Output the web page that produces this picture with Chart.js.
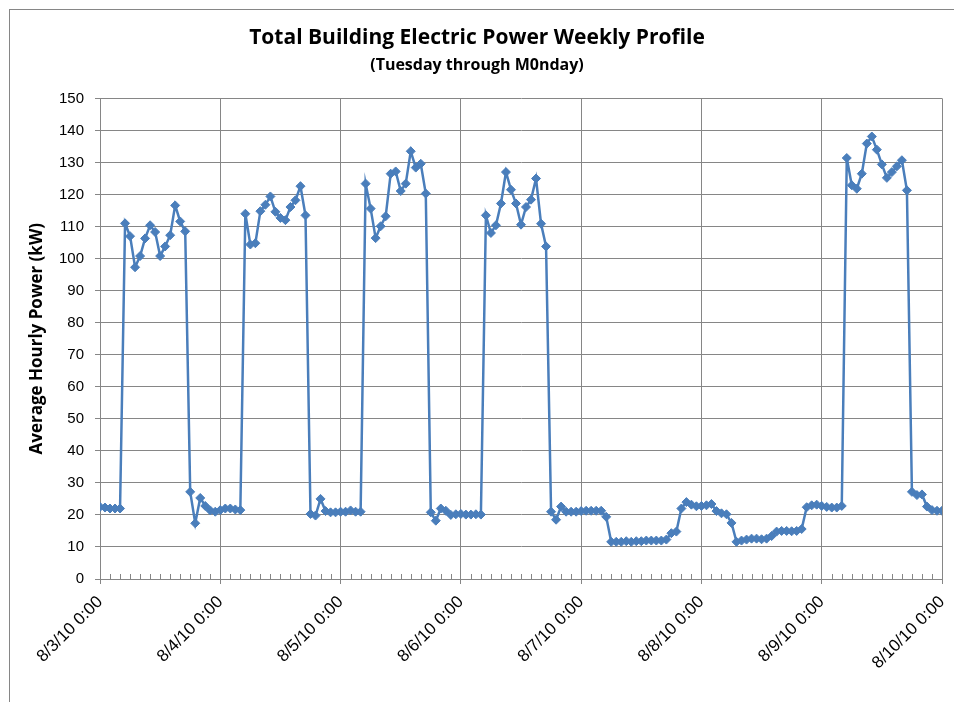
<!DOCTYPE html>
<html>
<head>
<meta charset="utf-8">
<script src="https://cdn.jsdelivr.net/npm/chart.js@4"></script>
<style>
  html, body { margin: 0; padding: 0; background: #fff; }
  #wrap { position: relative; width: 954px; height: 702px; }
  #frame { position: absolute; left: 9px; top: 9px; right: -5px; bottom: -5px; border-left: 1px solid #868686; border-top: 1px solid #868686; }
  canvas { position: absolute; left: 0; top: 0; }
</style>
</head>
<body>
<div id="wrap">
  <div id="frame"></div>
  <canvas id="myChart" width="954" height="702"></canvas>
</div>
<script>
// hourly average kW, one array per day (Tue 8/3 .. Mon 8/9), last one carries 8/10 0:00
const tue = [22.5, 22.3, 22.0, 22.0, 22.0, 111.0, 107.0, 97.3, 100.8, 106.3, 110.4, 108.3, 100.8, 103.8, 107.3, 116.6, 111.6, 108.5, 27.2, 17.4, 25.3, 22.8, 21.4, 21.0];
const wed = [21.5, 22.0, 22.0, 21.7, 21.5, 114.0, 104.4, 104.8, 114.8, 116.8, 119.4, 114.6, 112.7, 112.0, 116.1, 118.2, 122.6, 113.5, 20.3, 19.8, 25.0, 21.2, 20.8, 20.8];
const thu = [21.0, 21.0, 21.4, 21.0, 21.0, 123.4, 115.6, 106.4, 110.1, 113.2, 126.5, 127.2, 121.1, 123.4, 133.5, 128.4, 129.6, 120.3, 20.8, 18.2, 22.0, 21.3, 20.0, 20.2];
const fri = [20.3, 20.1, 20.1, 20.2, 20.1, 113.5, 108.0, 110.4, 117.2, 127.0, 121.5, 117.2, 110.6, 116.1, 118.4, 125.0, 110.9, 103.8, 21.0, 18.5, 22.6, 21.0, 21.0, 21.0];
const sat = [21.2, 21.3, 21.3, 21.3, 21.3, 19.4, 11.6, 11.6, 11.6, 11.8, 11.6, 11.8, 11.8, 12.0, 12.0, 12.0, 12.0, 12.3, 14.3, 14.8, 22.0, 24.0, 23.2, 22.7];
const sun = [22.8, 23.0, 23.4, 21.2, 20.5, 20.2, 17.5, 11.6, 12.0, 12.3, 12.6, 12.6, 12.4, 12.6, 13.4, 14.8, 15.0, 15.0, 14.9, 15.0, 15.6, 22.4, 23.0, 23.2];
const mon = [22.8, 22.5, 22.3, 22.3, 22.8, 131.4, 122.9, 121.8, 126.5, 135.9, 138.1, 134.0, 129.4, 125.2, 127.0, 128.8, 130.7, 121.3, 27.2, 26.2, 26.4, 22.6, 21.5, 21.3, 21.3];

const dayLabels = ['8/3/10 0:00', '8/4/10 0:00', '8/5/10 0:00', '8/6/10 0:00', '8/7/10 0:00', '8/8/10 0:00', '8/9/10 0:00', '8/10/10 0:00'];

let power = [].concat(tue, wed, thu, fri, sat, sun, mon);
let points = power.map((v, i) => ({ x: i, y: v }));

const blue = '#4A7EBB';
const gridGrey = '#868686';

// small inside tick marks every 2 hours, like the excel minor ticks
const minorTicks = {
  id: 'minorTicks',
  afterDraw(chart) {
    const ctx = chart.ctx;
    const xs = chart.scales.x;
    const bottom = chart.chartArea.bottom;
    ctx.save();
    ctx.strokeStyle = gridGrey;
    ctx.lineWidth = 1;
    for (let h = 2; h < 168; h += 2) {
      if (h % 24 == 0) continue;
      const px = Math.round(xs.getPixelForValue(h)) + 0.5;
      ctx.beginPath();
      ctx.moveTo(px, bottom);
      ctx.lineTo(px, bottom - 5);
      ctx.stroke();
    }
    ctx.restore();
  }
};

const config = {
  type: 'line',
  data: {
    datasets: [{
      data: points,
      borderColor: blue,
      backgroundColor: blue,
      borderWidth: 2.5,
      pointStyle: 'rectRot',
      pointRadius: 4.5,
      pointBackgroundColor: blue,
      pointBorderColor: blue,
      pointBorderWidth: 1,
      tension: 0
    }]
  },
  options: {
    responsive: false,
    animation: false,
    layout: { padding: { left: 0, right: 0, top: 0, bottom: 0 } },
    plugins: {
      legend: { display: false },
      tooltip: { enabled: false },
      title: {
        display: true,
        text: 'Total Building Electric Power Weekly Profile',
        color: '#000',
        font: { family: 'Open Sans', size: 21, weight: 'bold' },
        padding: { top: 25, bottom: 2 }
      },
      subtitle: {
        display: true,
        text: '(Tuesday through M0nday)',
        color: '#000',
        font: { family: 'Open Sans', size: 16, weight: 'bold' },
        padding: { top: 4, bottom: 23 }
      }
    },
    scales: {
      x: {
        type: 'linear',
        min: 0,
        max: 168,
        afterFit: s => { s.height = 123; s.paddingRight = 12; s.paddingLeft = 0; },
        grid: { color: gridGrey, tickColor: gridGrey, tickLength: 5, lineWidth: 1 },
        border: { color: gridGrey },
        ticks: {
          stepSize: 24,
          autoSkip: false,
          maxRotation: 45,
          minRotation: 45,
          color: '#000',
          padding: 8,
          font: { family: 'Liberation Sans', size: 17 },
          callback: v => (v % 24 == 0 ? dayLabels[v / 24] : '')
        }
      },
      y: {
        min: 0,
        max: 150,
        afterFit: s => { s.width = 100; },
        grid: { color: gridGrey, tickColor: gridGrey, tickLength: 5 },
        border: { color: gridGrey },
        ticks: {
          stepSize: 10,
          color: '#000',
          padding: 11,
          font: { family: 'Liberation Sans', size: 15 }
        },
        title: {
          display: true,
          text: 'Average Hourly Power (kW)',
          color: '#000',
          font: { family: 'Open Sans', size: 17, weight: 'bold' },
          padding: { top: 27, bottom: 0 }
        }
      }
    }
  },
  plugins: [minorTicks]
};

const myChart = new Chart(document.getElementById('myChart'), config);
</script>
</body>
</html>
